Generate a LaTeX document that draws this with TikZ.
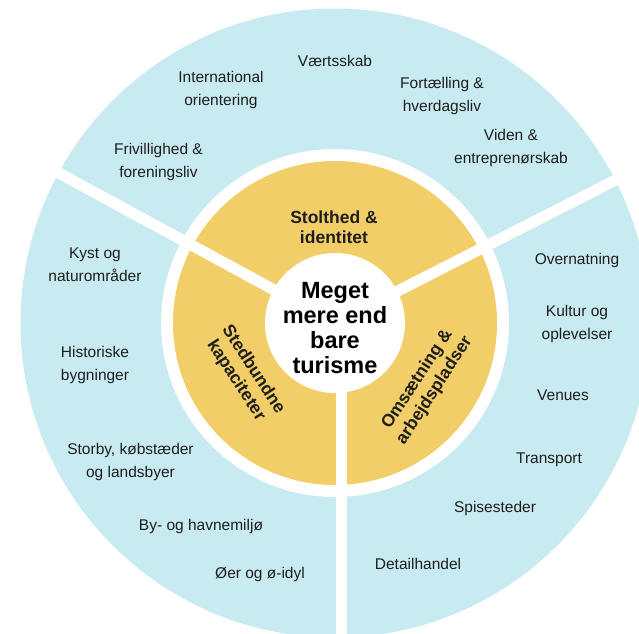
\documentclass[tikz,border=0pt]{standalone}
\usepackage{fontspec}
\setmainfont{Liberation Sans}
\usetikzlibrary{positioning}
\definecolor{ringblue}{HTML}{C8EAF1}
\definecolor{ringyellow}{HTML}{F2CE68}
\definecolor{txt}{HTML}{1E1E1E}

\begin{document}
\begin{tikzpicture}[x=1pt, y=1pt,
    item/.style={align=center, text=txt, inner sep=0pt, font=\fontsize{15.5}{23}\selectfont},
    pillar/.style={align=center, text=txt, inner sep=0pt, font=\bfseries\fontsize{17.5}{20.5}\selectfont},
    hub/.style={align=center, text=black, inner sep=0pt, font=\bfseries\fontsize{23.5}{25}\selectfont},
    gap/.style={white, line width=11pt}]
    \useasboundingbox (-335,-310) rectangle (304,323);
    \clip (-335,-310) rectangle (304,323);
    % rings
    \fill[ringblue] (0,0) circle (314.5);
    \fill[white] (0,0) circle (174);
    \fill[ringyellow] (0,0) circle (162);
    \draw[gap] (0,0) -- (27:340);
    \draw[gap] (0,0) -- (151.5:340);
    \draw[gap] (6,0) -- (6,-340);
    \fill[white] (0,0) circle (70);
    % centre and pillars
    \node[hub] (core) at (0,-5) {Meget\\mere end\\bare\\turisme};
    \node[pillar] (pride) at (-1,96) {Stolthed \&\\identitet};
    \node[pillar, rotate=-57] (place) at (-90.5,-52) {Stedbundne\\kapaciteter};
    \node[pillar, rotate=57] (jobs) at (91,-62) {Omsætning \&\\arbejdspladser};
    % outer ring, top
    \node[item] (host) at (0,262) {Værtsskab};
    \node[item] (intl) at (-114,233) {International\\orientering};
    \node[item] (story) at (107,227.5) {Fortælling \&\\hverdagsliv};
    \node[item] (know) at (176,175) {Viden \&\\entreprenørskab};
    \node[item] (vol) at (-176.5,161.5) {Frivillighed \&\\foreningsliv};
    % outer ring, left
    \node[item] (coast) at (-240,58.5) {Kyst og\\naturområder};
    \node[item] (hist) at (-240,-42) {Historiske\\bygninger};
    \node[item] (town) at (-204.5,-139) {Storby, købstæder\\og landsbyer};
    \node[item] (harb) at (-134,-203.5) {By- og havnemiljø};
    \node[item] (isle) at (-75,-251) {Øer og ø-idyl};
    % outer ring, right
    \node[item] (stay) at (242,63) {Overnatning};
    \node[item] (cult) at (242,-1) {Kultur og\\oplevelser};
    \node[item] (venue) at (228,-72) {Venues};
    \node[item] (trans) at (214,-137) {Transport};
    \node[item] (food) at (160,-185) {Spisesteder};
    \node[item] (shop) at (83,-241) {Detailhandel};
\end{tikzpicture}
\end{document}
